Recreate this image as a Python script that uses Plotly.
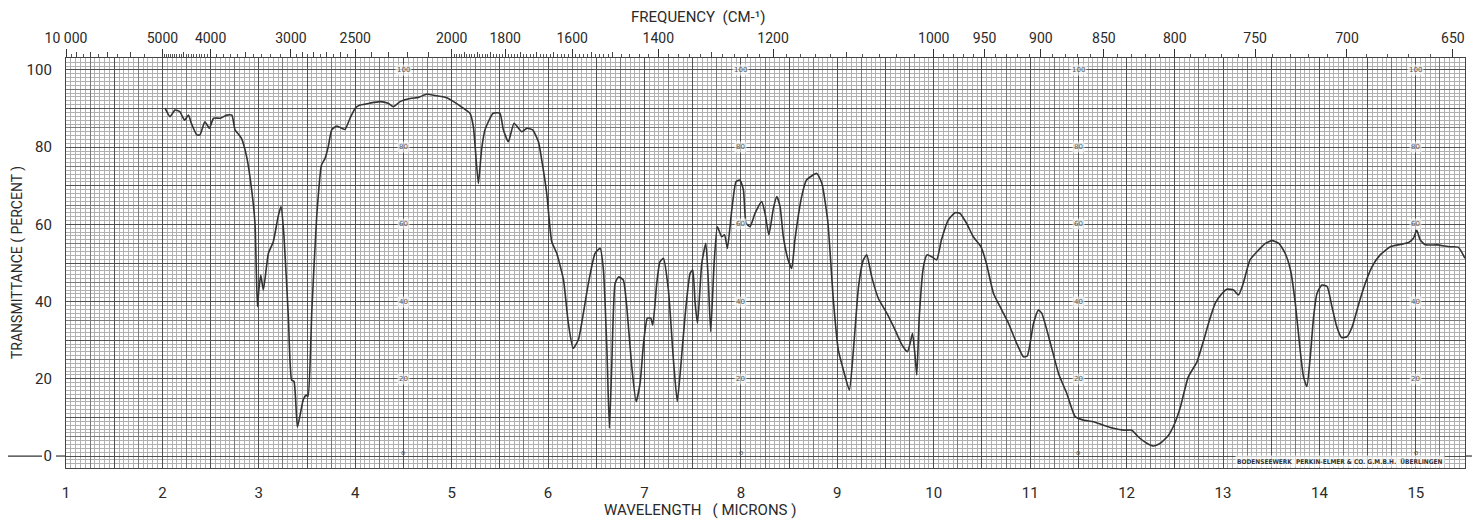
import plotly.graph_objects as go

# ---------------- data ----------------
wavelength_um = [
    2.027, 2.079, 2.13, 2.18, 2.23, 2.27, 2.30, 2.356, 2.39, 2.44, 2.487, 2.53, 2.60, 2.667, 2.72,
    2.753, 2.82, 2.874, 2.926, 2.96, 2.985, 3.00, 3.02, 3.047, 3.099, 3.15, 3.20, 3.23, 3.26, 3.306,
    3.34, 3.365, 3.40, 3.435, 3.46, 3.49, 3.51, 3.55, 3.60, 3.65, 3.687, 3.72, 3.756, 3.81, 3.86,
    3.894, 3.946, 4.0, 4.05, 4.15, 4.26, 4.34, 4.395, 4.465, 4.57, 4.655, 4.74, 4.845, 4.95, 5.02,
    5.12, 5.19, 5.225, 5.277, 5.31, 5.346, 5.43, 5.50, 5.536, 5.588, 5.647, 5.727, 5.78, 5.84, 5.90,
    5.934, 5.986, 6.038, 6.09, 6.16, 6.21, 6.26, 6.314, 6.366, 6.418, 6.487, 6.54, 6.574, 6.61, 6.636,
    6.66, 6.695, 6.73, 6.78, 6.816, 6.868, 6.913, 6.954, 6.99, 7.03, 7.065, 7.086, 7.127, 7.16, 7.196,
    7.248, 7.30, 7.34, 7.376, 7.42, 7.473, 7.50, 7.525, 7.55, 7.594, 7.636, 7.663, 7.687, 7.722, 7.756,
    7.80, 7.83, 7.86, 7.905, 7.95, 7.99, 8.026, 8.054, 8.095, 8.147, 8.216, 8.25, 8.29, 8.337, 8.372,
    8.406, 8.44, 8.49, 8.527, 8.56, 8.63, 8.68, 8.787, 8.84, 8.90, 8.96, 9.01, 9.063, 9.125, 9.167,
    9.22, 9.27, 9.305, 9.357, 9.426, 9.513, 9.60, 9.67, 9.727, 9.755, 9.78, 9.807, 9.824, 9.85, 9.893,
    9.93, 9.98, 10.03, 10.08, 10.15, 10.22, 10.27, 10.34, 10.41, 10.49, 10.546, 10.62, 10.706, 10.775,
    10.86, 10.93, 10.97, 11.035, 11.086, 11.12, 11.21, 11.294, 11.38, 11.467, 11.553, 11.657, 11.76,
    11.864, 11.97, 12.055, 12.12, 12.21, 12.28, 12.35, 12.435, 12.50, 12.556, 12.64, 12.73, 12.80,
    12.85, 12.92, 12.99, 13.04, 13.11, 13.16, 13.21, 13.28, 13.37, 13.44, 13.51, 13.58, 13.645, 13.70,
    13.75, 13.80, 13.835, 13.87, 13.905, 13.94, 13.975, 14.025, 14.08, 14.13, 14.18, 14.23, 14.285,
    14.34, 14.41, 14.475, 14.545, 14.63, 14.735, 14.84, 14.925, 14.975, 15.01, 15.045, 15.10, 15.22,
    15.355, 15.44, 15.51,
]
transmittance_pct = [
    90.1, 87.9, 89.6, 89.2, 87.0, 88.3, 86.2, 83.2, 83.2, 86.6, 84.9, 87.5, 87.5, 88.3, 88.3,
    84.5, 82.3, 77.5, 68.9, 60.3, 38.7, 43.0, 46.9, 43.0, 52.5, 55.5, 62.0, 64.6, 57.3, 36.1,
    19.7, 19.3, 7.5, 11.5, 14.5, 15.8, 15.4, 37.8, 62.0, 75.4, 77.1, 80.1, 84.5, 85.5, 84.9,
    84.6, 87.5, 90.1, 90.9, 91.4, 91.8, 91.4, 90.5, 91.8, 92.6, 92.9, 93.7, 93.3, 92.8, 91.8,
    90.1, 88.8, 85.3, 70.6, 79.3, 84.5, 88.8, 88.8, 84.5, 81.4, 86.2, 84.0, 84.9, 84.5, 81.4,
    76.7, 68.0, 55.5, 52.5, 45.6, 34.4, 27.9, 30.1, 37.0, 44.7, 52.5, 53.8, 48.2, 27.5, 7.2,
    23.1, 44.7, 46.4, 45.6, 38.7, 23.1, 14.1, 18.8, 29.2, 35.7, 35.7, 33.9, 44.7, 50.3, 51.2,
    43.0, 24.9, 14.1, 23.1, 36.1, 47.3, 48.2, 39.6, 34.4, 49.9, 55.1, 44.7, 32.2, 49.9, 59.4,
    56.8, 57.3, 53.8, 63.7, 71.1, 71.5, 68.9, 60.3, 59.4, 62.9, 65.9, 62.9, 57.3, 64.2, 67.2,
    64.6, 56.8, 50.8, 48.6, 56.0, 67.2, 71.5, 73.2, 70.6, 61.0, 40.0, 27.5, 22.3, 17.1, 27.5,
    43.9, 50.8, 52.1, 46.4, 40.8, 37.0, 32.6, 28.8, 27.0, 29.2, 31.8, 25.7, 21.0, 36.1, 49.0,
    52.1, 51.6, 50.8, 56.0, 61.1, 63.0, 62.9, 60.3, 56.8, 54.2, 49.9, 42.1, 37.8, 34.4,
    29.2, 25.7, 25.9, 34.4, 37.8, 37.0, 29.2, 21.4, 16.2, 10.2, 9.3, 8.9, 8.0,
    7.2, 6.7, 6.7, 5.0, 3.3, 2.6, 3.3, 5.4, 8.5, 12.5, 20.5, 24.4, 30.0,
    34.4, 39.6, 42.1, 43.2, 43.0, 41.7, 44.7, 50.8, 53.4, 55.1, 55.8, 55.1, 52.5, 48.2,
    39.6, 27.5, 20.5, 18.0, 25.7, 36.1, 42.1, 44.3, 43.9, 38.7, 33.5, 30.7, 30.9,
    33.5, 39.6, 44.7, 49.0, 52.1, 54.2, 54.8, 55.3, 56.4, 58.5, 56.0, 54.7, 54.7,
    54.2, 54.1, 51.2,
]

# tick labels
wavelength_ticks = list(range(1, 16))
transmittance_ticks = [0, 20, 40, 60, 80, 100]
freq_major = [10000, 5000, 4000, 3000, 2500, 2000, 1800, 1600, 1400, 1200,
              1000, 950, 900, 850, 800, 750, 700, 650]
freq_major_text = ["10 000", "5000", "4000", "3000", "2500", "2000", "1800", "1600", "1400",
                   "1200", "1000", "950", "900", "850", "800", "750", "700", "650"]
chart_marks_um = [4.5, 8, 11.5, 15]          # small printed scale on the chart paper
chart_marks_vals = [100, 80, 60, 40, 20]

# frequency scale divisions (cm-1)
freq_medium = ([9000, 8000, 7000, 6000, 4500, 3500]
               + [f for f in range(2900, 2000, -100) if f != 2500]
               + [f for f in range(1950, 1500, -50) if f not in (1800, 1600)]
               + [1500, 1300, 1100])
freq_minor = ([9500, 8500, 7500, 6500, 5500]
              + [f for f in range(4950, 4000, -50) if f != 4500]
              + [f for f in range(3900, 3000, -100) if f != 3500]
              + [2950, 2850, 2750, 2650, 2550]
              + [f for f in range(1990, 1500, -10) if f % 50]
              + [f for f in range(1480, 1000, -20) if f % 100]
              + [f for f in range(990, 650, -10) if f % 50])

X_RANGE = [1.0, 15.51]
Y_RANGE = [-3.1, 103.1]

FONT = "Roboto"
INK = "#2a2a2a"
GRID_FINE = "#b0b0b0"
GRID_MED = "#7a7a7a"
GRID_HEAVY = "#505050"

# page body has an 8px default margin: size the figure so it fills the window exactly
FIG_W, FIG_H = 1475, 517
M_L, M_R, M_T, M_B = 58, 18, 50, 57
PLOT_W = FIG_W - M_L - M_R

fig = go.Figure()

# spectrum
fig.add_trace(go.Scatter(
    x=wavelength_um, y=transmittance_pct, mode="lines",
    line=dict(color="#333333", width=1.6, shape="spline", smoothing=0.5),
    showlegend=False, hoverinfo="x+y",
))
# helper traces so overlay axes exist
fig.add_trace(go.Scatter(x=[None], y=[None], xaxis="x3", yaxis="y3", showlegend=False, hoverinfo="skip"))
fig.add_trace(go.Scatter(x=[None], y=[None], xaxis="x2", yaxis="y", showlegend=False, hoverinfo="skip"))
fig.add_trace(go.Scatter(x=[None], y=[None], xaxis="x4", yaxis="y", showlegend=False, hoverinfo="skip"))

fig.update_layout(
    width=FIG_W, height=FIG_H,
    margin=dict(l=M_L, r=M_R, t=M_T, b=M_B, pad=0, autoexpand=False),
    paper_bgcolor="white", plot_bgcolor="white",
    font=dict(family=FONT, color=INK, size=15),
    showlegend=False,
    xaxis=dict(
        range=X_RANGE, tickmode="array", tickvals=wavelength_ticks,
        ticks="outside", ticklen=11, tickcolor="rgba(0,0,0,0)",
        tickfont=dict(size=15, family=FONT, color=INK),
        showgrid=False, zeroline=False,
        showline=True, mirror=True, linecolor="#444444", linewidth=1.2,
        minor=dict(dtick=0.05, tick0=1, showgrid=True, gridcolor=GRID_FINE, gridwidth=0.8, ticks=""),
    ),
    yaxis=dict(
        range=Y_RANGE, tickmode="array", tickvals=transmittance_ticks,
        ticks="outside", ticklen=10, tickcolor="rgba(0,0,0,0)",
        tickfont=dict(size=15, family=FONT, color=INK),
        showgrid=False, zeroline=False,
        showline=True, mirror=True, linecolor="#444444", linewidth=1.2,
        minor=dict(dtick=1, tick0=0, showgrid=True, gridcolor=GRID_FINE, gridwidth=0.8, ticks=""),
    ),
    xaxis3=dict(
        range=X_RANGE, overlaying="x", anchor="y", side="bottom",
        tick0=1, dtick=0.5, showticklabels=False, ticks="",
        showgrid=True, gridcolor=GRID_HEAVY, gridwidth=1.1, zeroline=False,
        minor=dict(dtick=0.25, tick0=1, showgrid=True, gridcolor=GRID_MED, gridwidth=1, ticks=""),
    ),
    yaxis3=dict(
        range=Y_RANGE, overlaying="y", anchor="x", side="left",
        tick0=0, dtick=10, showticklabels=False, ticks="",
        showgrid=True, gridcolor=GRID_HEAVY, gridwidth=1.1, zeroline=False,
        minor=dict(dtick=5, tick0=0, showgrid=True, gridcolor=GRID_MED, gridwidth=1, ticks=""),
    ),
    xaxis2=dict(
        range=X_RANGE, overlaying="x", anchor="y", side="top",
        tickmode="array", tickvals=[1e4 / f for f in freq_major], ticktext=freq_major_text,
        ticks="outside", ticklen=8, tickwidth=1.2, tickcolor="#333333",
        tickfont=dict(size=14, family=FONT, color=INK),
        showgrid=False, zeroline=False,
        minor=dict(tickmode="array", tickvals=[1e4 / f for f in freq_minor],
                   ticks="outside", ticklen=3, tickwidth=1, tickcolor="#555555", showgrid=False),
    ),
    xaxis4=dict(
        range=X_RANGE, overlaying="x", anchor="y", side="top",
        tickmode="array", tickvals=[1e4 / f for f in freq_medium],
        ticks="outside", ticklen=5, tickwidth=1, tickcolor="#444444",
        showticklabels=False, showgrid=False, zeroline=False,
    ),
)

annotations = []
# axis titles
annotations.append(dict(text="FREQUENCY  (CM-¹)", xref="x", yref="paper", x=7.56, y=1,
                        yshift=41, yanchor="middle", xanchor="center", showarrow=False,
                        font=dict(size=15, family=FONT, color=INK)))
annotations.append(dict(text="WAVELENGTH   ( MICRONS )", xref="x", yref="paper", x=7.58, y=0,
                        yshift=-42, yanchor="middle", xanchor="center", showarrow=False,
                        font=dict(size=15, family=FONT, color=INK)))
annotations.append(dict(text="TRANSMITTANCE ( PERCENT )", xref="paper", yref="paper", x=0, y=0.5,
                        xshift=-49, xanchor="center", yanchor="middle", textangle=-90,
                        showarrow=False, font=dict(size=14, family=FONT, color=INK)))
# small printed scale on the chart paper
for um in chart_marks_um:
    for v in chart_marks_vals:
        annotations.append(dict(text=str(v), x=um, y=v, xref="x", yref="y", showarrow=False,
                                font=dict(size=7, family="DejaVu Sans", color="#555555"),
                                bgcolor="rgba(255,255,255,0.6)"))
    annotations.append(dict(text="o", x=um, y=0, xref="x", yref="y", yshift=3, showarrow=False,
                            font=dict(size=7, family="DejaVu Sans", color="#555555")))
# chart paper imprint
annotations.append(dict(text="<b>BODENSEEWERK  PERKIN-ELMER &amp; CO. G.M.B.H.  ÜBERLINGEN</b>",
                        x=1.0, y=0, xref="paper", yref="paper", xanchor="right", yanchor="bottom",
                        xshift=-20, yshift=0, showarrow=False,
                        font=dict(size=6.5, family="DejaVu Sans Condensed, DejaVu Sans", color="#333333"),
                        bgcolor="rgba(255,255,255,0.7)"))
fig.update_layout(annotations=annotations)

# zero-line extensions outside the frame
shapes = [
    dict(type="line", xref="paper", yref="y", x0=-M_L / PLOT_W, x1=-24 / PLOT_W, y0=0, y1=0,
         line=dict(color="#333333", width=1.2)),
    dict(type="line", xref="paper", yref="y", x0=-10 / PLOT_W, x1=0, y0=0, y1=0,
         line=dict(color="#333333", width=1.2)),
    dict(type="line", xref="paper", yref="y", x0=1, x1=1 + 7 / PLOT_W, y0=0, y1=0,
         line=dict(color="#333333", width=1.2)),
]
fig.update_layout(shapes=shapes)

fig.write_html("out.html")
